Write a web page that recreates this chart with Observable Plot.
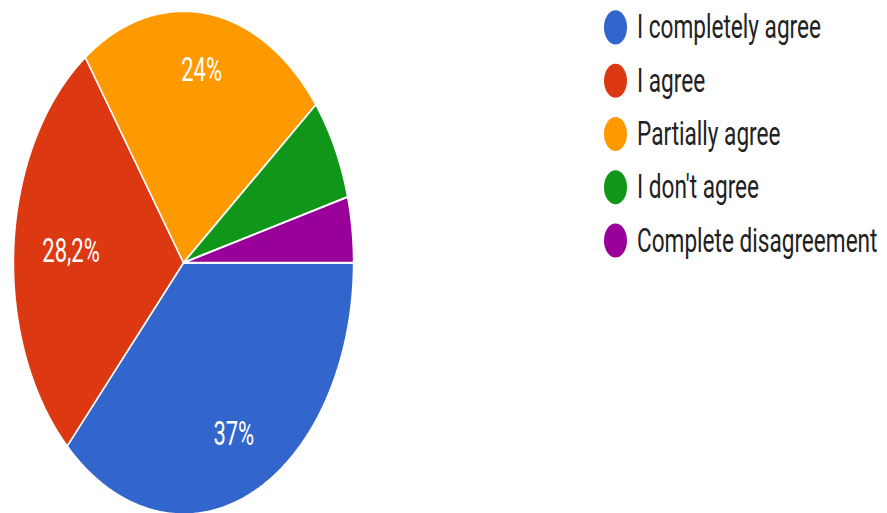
<!DOCTYPE html>
<html>
<head>
<meta charset="utf-8">
<script src="https://cdn.jsdelivr.net/npm/d3@7"></script>
<script src="https://cdn.jsdelivr.net/npm/@observablehq/plot@0.6"></script>
<style>
  html, body { margin: 0; padding: 0; background: #fff; }
  body { width: 887px; height: 513px; }
  #wrap { position: relative; width: 887px; height: 347px; transform: scale(1, 1.48); transform-origin: 0 0; }
  #legend { position: absolute; left: 604px; top: 0px; font-family: Roboto, sans-serif; font-size: 22.6px; color: #222; }
  .item { display: flex; align-items: center; height: 36px; white-space: nowrap; }
  .sw { width: 23px; height: 23px; border-radius: 50%; margin-right: 10px; flex: none; }
</style>
</head>
<body>
<div id="wrap"><div id="chart"></div><div id="legend"></div></div>
<script>
const categories = ["I completely agree", "I agree", "Partially agree", "I don't agree", "Complete disagreement"];
const values = [37, 28.2, 24, 6.6, 4.2];
const sliceLabels = ["37%", "28,2%", "24%", "", ""];
const colors = ["#3366cc", "#dc3912", "#ff9900", "#109618", "#990099"];

const labelFontSize = 22;
const radiusPx = 170;

const arcs = d3.pie().sort(null).startAngle(Math.PI / 2).endAngle(Math.PI / 2 + 2 * Math.PI)(values);

const pts = [];
arcs.forEach((a, i) => {
  const cat = categories[i];
  pts.push({cat, x: 0, y: 0});
  const n = Math.max(2, Math.ceil((a.endAngle - a.startAngle) / (Math.PI / 360)));
  for (let k = 0; k <= n; k++) {
    const t = a.startAngle + (a.endAngle - a.startAngle) * k / n;
    pts.push({cat, x: Math.sin(t), y: Math.cos(t)});
  }
  pts.push({cat, x: 0, y: 0});
});

// label placement: keep the label box a fixed fraction inside the rim
const ctx = document.createElement("canvas").getContext("2d");
ctx.font = `${labelFontSize}px Roboto`;
const labelData = arcs.map((a, i) => {
  const m = (a.startAngle + a.endAngle) / 2;
  const hw = ctx.measureText(sliceLabels[i]).width / 2 / radiusPx;
  const hh = labelFontSize * 0.711 / 2 / radiusPx;
  const r = 0.835 - (hw * Math.abs(Math.sin(m)) + hh * Math.abs(Math.cos(m)));
  return {x: r * Math.sin(m), y: r * Math.cos(m), text: sliceLabels[i]};
}).filter(d => d.text);

const chart = Plot.plot({
  width: 887,
  height: 347,
  margin: 0,
  x: {domain: [-1, 1], range: [183 - radiusPx, 183 + radiusPx], axis: null},
  y: {domain: [-1, 1], range: [347, 7], axis: null},
  color: {domain: categories, range: colors},
  marks: [
    Plot.line(pts, {x: "x", y: "y", z: "cat", fill: "cat", stroke: "white", strokeWidth: 1.4}),
    Plot.text(labelData, {x: "x", y: "y", text: "text", fill: "white", fontSize: labelFontSize, fontFamily: "Roboto, sans-serif"})
  ]
});
document.getElementById("chart").appendChild(chart);

const legend = d3.select("#legend");
categories.forEach((c, i) => {
  const it = legend.append("div").attr("class", "item");
  it.append("div").attr("class", "sw").style("background", colors[i]);
  it.append("span").text(c);
});
</script>
</body>
</html>
